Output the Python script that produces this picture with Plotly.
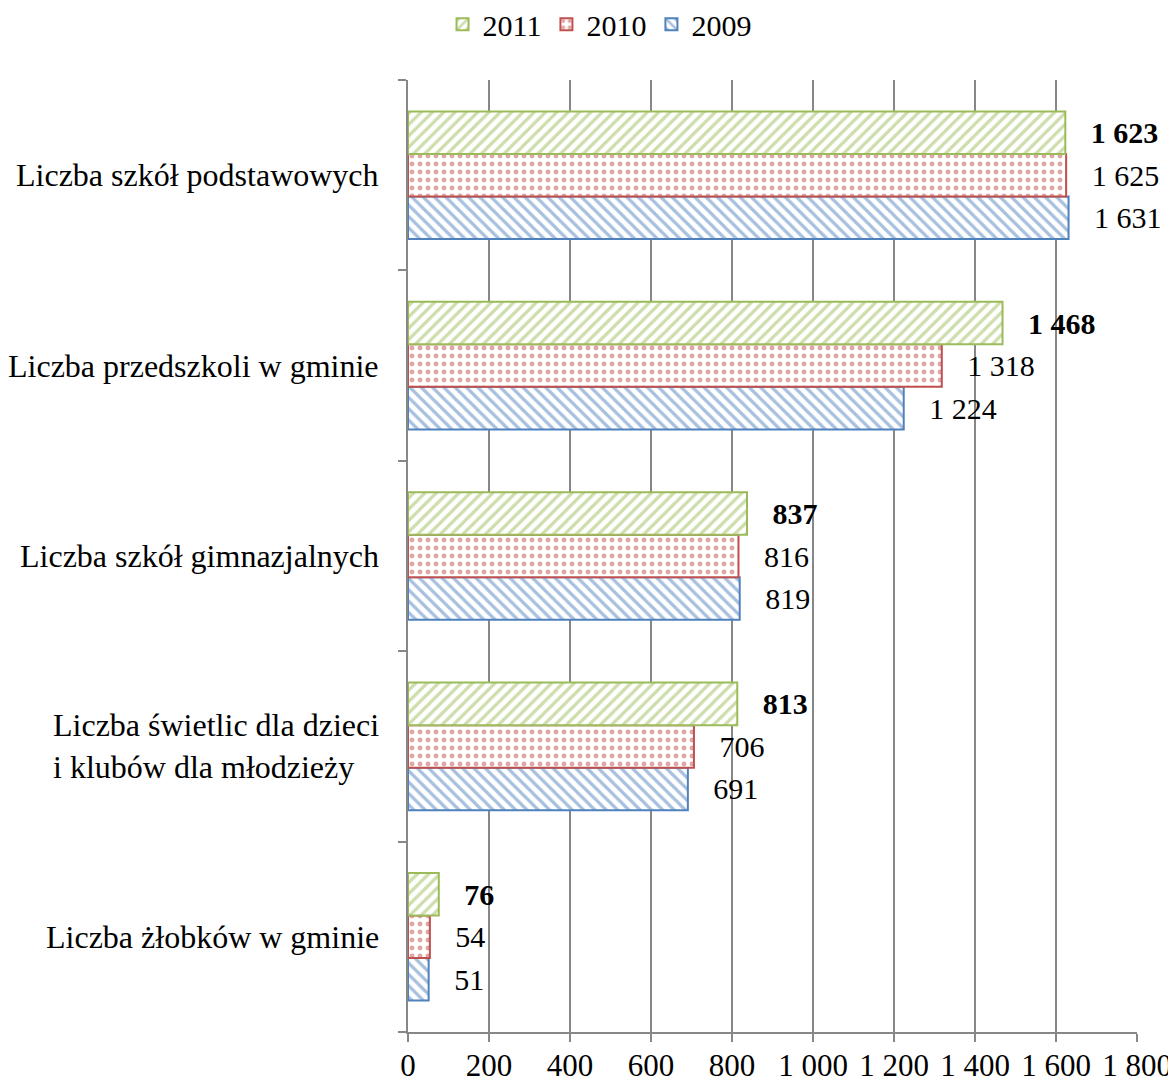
import plotly.graph_objects as go

categories = [
    "Liczba żłobków w gminie",
    "Liczba świetlic dla dzieci<br>i klubów dla młodzieży",
    "Liczba szkół gimnazjalnych",
    "Liczba przedszkoli w gminie",
    "Liczba szkół podstawowych",
]
years = ["2009", "2010", "2011"]
v2009 = [51, 691, 819, 1224, 1631]
v2010 = [54, 706, 816, 1318, 1625]
v2011 = [76, 813, 837, 1468, 1623]
x_ticks = [0, 200, 400, 600, 800, 1000, 1200, 1400, 1600, 1800]
x_ticktext = ["0", "200", "400", "600", "800", "1 000", "1 200", "1 400", "1 600", "1 800"]

colors = {"2009": "#4F81BD", "2010": "#C0504D", "2011": "#9BBB59"}
shapes = {"2009": "\\", "2010": ".", "2011": "/"}
values = {"2009": v2009, "2010": v2010, "2011": v2011}


def fmt(v):
    return f"{v:,}".replace(",", " ")


FONT = "Liberation Serif"

fig = go.Figure()
for y in years:
    bold = y == "2011"
    txt = ["   " + (f"<b>{fmt(v)}</b>" if bold else fmt(v)) for v in values[y]]
    fig.add_trace(go.Bar(
        name=y,
        y=categories,
        x=values[y],
        orientation="h",
        text=txt,
        textposition="outside",
        textfont=dict(family=FONT, size=30, color="black"),
        cliponaxis=False,
        marker=dict(
            color="white",
            line=dict(color=colors[y], width=2),
            pattern=dict(shape=shapes[y], fgcolor=colors[y], bgcolor="white",
                         size=8, solidity=0.4 if y != "2010" else 0.3),
        ),
    ))

# category labels as left-aligned text blocks, right edge near the axis
for cat in categories:
    fig.add_annotation(
        x=0, xref="paper", y=cat, yref="y",
        xanchor="right", yanchor="middle", xshift=-27,
        text=cat, align="left", showarrow=False,
        font=dict(family=FONT, size=32, color="black"),
    )

fig.update_layout(
    width=1176, height=1083,
    margin=dict(l=400, r=47, t=72, b=59, autoexpand=False),
    paper_bgcolor="white", plot_bgcolor="white",
    barmode="group", bargap=0.33, bargroupgap=0,
    font=dict(family=FONT, size=30, color="black"),
    legend=dict(orientation="h", xref="container", x=0.503, xanchor="center",
                yref="container", y=0.985, yanchor="middle",
                traceorder="reversed", font=dict(family=FONT, size=30)),
    xaxis=dict(range=[0, 1800], tickvals=x_ticks, ticktext=x_ticktext,
               showgrid=True, gridcolor="#878787", gridwidth=1.5,
               showline=True, linecolor="#878787", linewidth=1.5,
               ticks="outside", ticklen=8, tickcolor="#878787", tickwidth=1.5,
               zeroline=False, tickfont=dict(size=31), ticklabelstandoff=-3,
               automargin=False),
    yaxis=dict(type="category", categoryorder="array", categoryarray=categories,
               tickson="boundaries", ticks="outside", ticklen=8,
               tickcolor="#878787", tickwidth=1.5,
               showline=True, linecolor="#878787", linewidth=1.5,
               showgrid=False, showticklabels=False, automargin=False),
)

fig.write_html("out.html")
